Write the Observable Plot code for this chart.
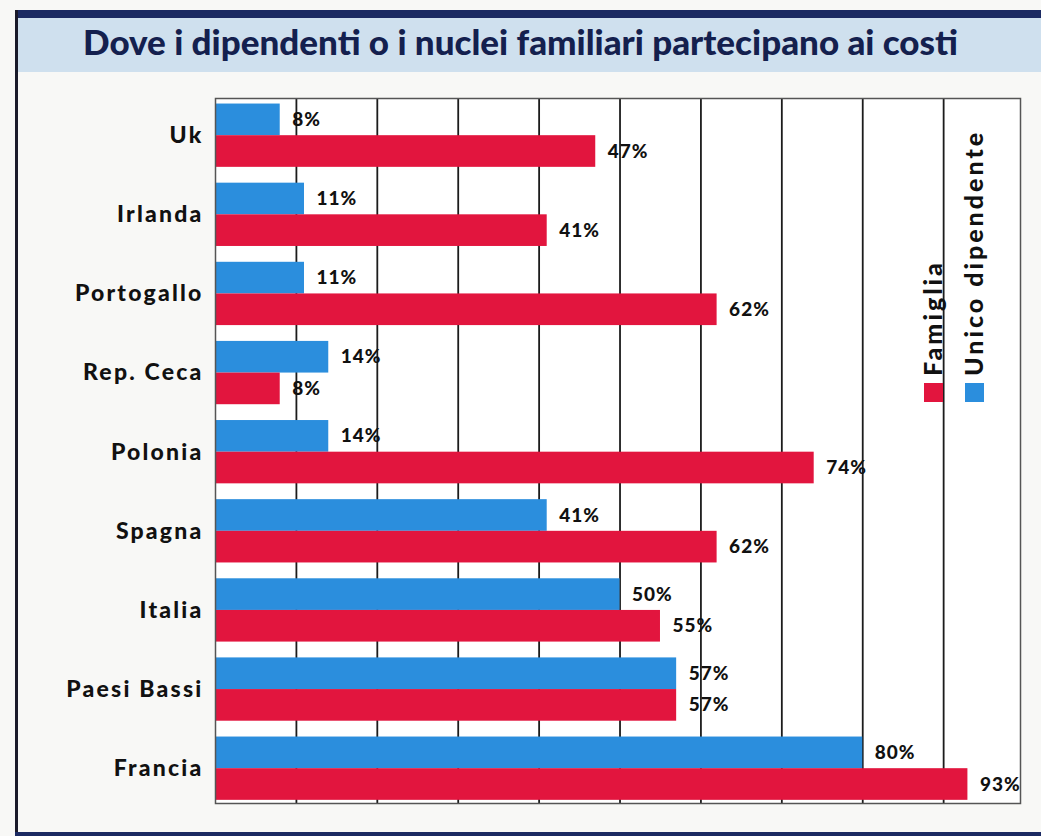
<!DOCTYPE html>
<html>
<head>
<meta charset="utf-8">
<script src="https://cdn.jsdelivr.net/npm/d3@7"></script>
<script src="https://cdn.jsdelivr.net/npm/@observablehq/plot@0.6"></script>
<style>
  html, body { margin: 0; padding: 0; background: #f8f8f6; }
  #wrap { position: relative; width: 1041px; height: 836px; overflow: hidden; background: #f8f8f6; font-family: Lato, "Open Sans", sans-serif; }
  #topbar { position: absolute; left: 15px; top: 10px; right: 0; height: 8px; background: #1b2a62; }
  #leftbar { position: absolute; left: 15px; top: 10px; width: 3px; bottom: 0; background: #1a1a2a; }
  #bottombar { position: absolute; left: 15px; bottom: 0; right: 0; height: 4px; background: #1b2a62; }
  #titleband { position: absolute; left: 18px; top: 18px; right: 0; height: 54px; background: #cfe0ee; }
  #title { position: absolute; left: 0; right: 0; top: 20px; height: 54px; line-height: 54px; text-align: center; font: 900 35px Lato, sans-serif; color: #14204e; letter-spacing: 0px; }
  #chart { position: absolute; left: 0; top: 72px; }
  #chart svg { background: transparent; }
  #chart svg text { letter-spacing: 1px; }
  #chart svg g[aria-label="y-axis tick label"] text { letter-spacing: 2.2px; }
  .leg { position: absolute; font: 900 25px Lato, sans-serif; color: #111; letter-spacing: 3px; white-space: nowrap; transform-origin: 0 0; transform: rotate(-90deg); }
  .sw { position: absolute; width: 19px; height: 19px; }
</style>
</head>
<body>
<div id="wrap">
  <div id="titleband"></div>
  <div id="topbar"></div>
  <div id="leftbar"></div>
  <div id="bottombar"></div>
  <div id="title">Dove i dipendenti o i nuclei familiari partecipano ai costi</div>
  <div id="chart"></div>
</div>
<script>
// ---- data ----
const countries = ["Uk", "Irlanda", "Portogallo", "Rep. Ceca", "Polonia", "Spagna", "Italia", "Paesi Bassi", "Francia"];
const unicoDipendente = [8, 11, 11, 14, 14, 41, 50, 57, 80];
const famiglia = [47, 41, 62, 8, 74, 62, 55, 57, 93];
const seriesNames = ["Unico dipendente", "Famiglia"];
const seriesColors = ["#2b8edd", "#e2153e"];
const gridTicks = [10, 20, 30, 40, 50, 60, 70, 80, 90];

// ---- build rows ----
const half = 0.4; // half of a group's thickness in band units
const rows = [];
countries.forEach((c, i) => {
  rows.push({country: c, i, series: seriesNames[0], value: unicoDipendente[i], y1: i - half, y2: i});
  rows.push({country: c, i, series: seriesNames[1], value: famiglia[i], y1: i, y2: i + half});
});

const W = 1041, H = 764;
const plot = Plot.plot({
  width: W,
  height: H,
  marginLeft: 215,
  marginRight: 21,
  marginTop: 26,
  marginBottom: 33,
  style: {background: "transparent", fontFamily: "Lato, sans-serif"},
  x: {domain: [0, 99.5], axis: null},
  y: {domain: [-0.47, countries.length - 1 + 0.44], reverse: true, axis: null},
  color: {domain: seriesNames, range: seriesColors},
  marks: [
    Plot.rect([0], {x1: 0, x2: 99.5, y1: -0.47, y2: countries.length - 1 + 0.44, fill: "#ffffff"}),
    Plot.ruleX(gridTicks, {stroke: "#1c1c1c", strokeWidth: 1.8}),
    Plot.rect(rows, {x1: 0, x2: "value", y1: "y1", y2: "y2", fill: "series"}),
    Plot.text(rows, {
      x: "value", y: d => (d.y1 + d.y2) / 2, text: d => d.value + "%",
      textAnchor: "start", dx: 12, fontSize: 19, fontWeight: 900, fill: "#111"
    }),
    Plot.axisY(countries.map((c, i) => i), {
      tickFormat: i => countries[i], tickSize: 0, tickPadding: 12,
      fontSize: 23, fontWeight: 900, fill: "#111", label: null
    }),
    Plot.frame({stroke: "#555", strokeWidth: 1.5})
  ]
});
document.getElementById("chart").appendChild(plot);

// ---- legend (rotated, inside plot at right) ----
const wrap = document.getElementById("wrap");
const legendItems = [
  {name: seriesNames[1], color: seriesColors[1], x: 924},
  {name: seriesNames[0], color: seriesColors[0], x: 965}
];
legendItems.forEach(it => {
  const sw = document.createElement("div");
  sw.className = "sw";
  sw.style.left = it.x + "px";
  sw.style.top = "383px";
  sw.style.background = it.color;
  wrap.appendChild(sw);
  const t = document.createElement("div");
  t.className = "leg";
  t.textContent = it.name;
  t.style.left = (it.x - 7) + "px";
  t.style.top = "376px";
  wrap.appendChild(t);
});
</script>
</body>
</html>
